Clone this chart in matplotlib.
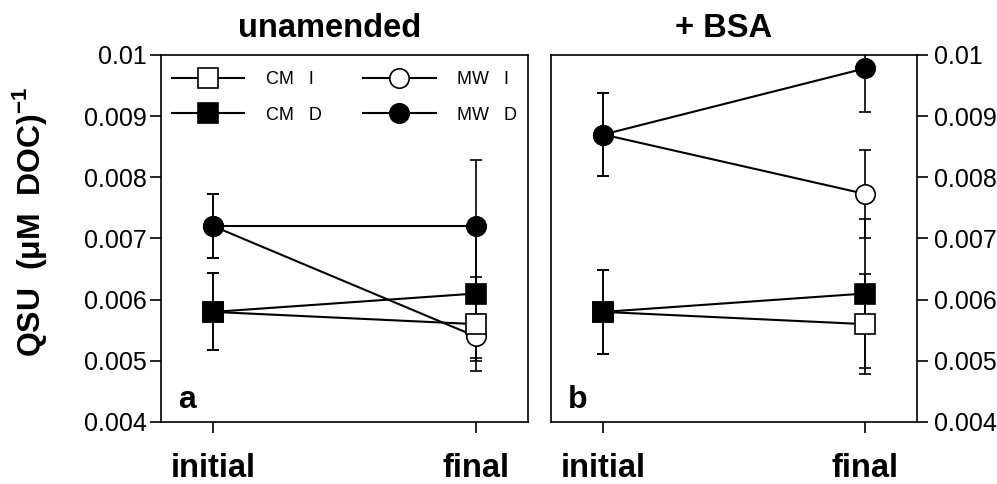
import matplotlib
matplotlib.use("Agg")
import matplotlib.pyplot as plt
import numpy as np

plt.rcParams['font.family'] = ['Liberation Sans', 'DejaVu Sans']
plt.rcParams['mathtext.fontset'] = 'custom'
plt.rcParams['mathtext.rm'] = 'Liberation Sans'
plt.rcParams['mathtext.bf'] = 'Liberation Sans:bold'

# ---- data ----
x_labels = ["initial", "final"]
panel_titles = ["unamended", "+ BSA"]
panel_letters = ["a", "b"]
series_names = ["CM   I", "CM   D", "MW   I", "MW   D"]

# unamended (panel a): [initial, final]
a_cm_i = [0.0058, 0.0056]
a_cm_i_err = [0.00063, 0.00077]
a_cm_d = [0.0058, 0.0061]
a_cm_d_err = [0.00063, 0.00111]
a_mw_i = [0.0072, 0.0054]
a_mw_i_err = [0.00052, 0.00036]
a_mw_d = [0.0072, 0.0072]
a_mw_d_err = [0.00052, 0.00108]

# + BSA (panel b)
b_cm_i = [0.0058, 0.0056]
b_cm_i_err = [0.00069, 0.00082]
b_cm_d = [0.0058, 0.0061]
b_cm_d_err = [0.00069, 0.00122]
b_mw_i = [0.0087, 0.00773]
b_mw_i_err = [0.00068, 0.00072]
b_mw_d = [0.0087, 0.00978]
b_mw_d_err = [0.00068, 0.00071]

y_ticks = [0.004, 0.005, 0.006, 0.007, 0.008, 0.009, 0.010]
y_tick_labels = ["0.004", "0.005", "0.006", "0.007", "0.008", "0.009", "0.01"]

panels = [
    [(a_mw_i, a_mw_i_err), (a_cm_i, a_cm_i_err), (a_cm_d, a_cm_d_err), (a_mw_d, a_mw_d_err)],
    [(b_mw_i, b_mw_i_err), (b_cm_i, b_cm_i_err), (b_cm_d, b_cm_d_err), (b_mw_d, b_mw_d_err)],
]
# order in panels list: MW I, CM I, CM D, MW D
styles = [
    dict(marker='o', mfc='white', label=series_names[2]),
    dict(marker='s', mfc='white', label=series_names[0]),
    dict(marker='s', mfc='black', label=series_names[1]),
    dict(marker='o', mfc='black', label=series_names[3]),
]

fig = plt.figure(figsize=(9.97, 4.84), dpi=100)
axes = [fig.add_axes([0.1615, 0.1281, 0.3681, 0.7583]),
        fig.add_axes([0.5527, 0.1281, 0.3671, 0.7583])]

xs = np.arange(len(x_labels))
title_x = [0.4605, 0.47]
for k, ax in enumerate(axes):
    handles = {}
    for (vals, errs), st in zip(panels[k], styles):
        h = ax.errorbar(xs, vals, yerr=errs, color='black', lw=1.5,
                        elinewidth=1.2, capsize=4.5, capthick=1.2,
                        marker=st['marker'], ms=14, mfc=st['mfc'], mec='black',
                        mew=1.2, label=st['label'])
        handles[st['label']] = h[0]
    ax.set_xlim(-0.2, 1.2)
    ax.set_ylim(0.004, 0.010)
    ax.set_xticks(xs)
    ax.set_xticklabels(x_labels, fontsize=23.5, fontweight='bold')
    ax.set_yticks(y_ticks)
    ax.set_yticklabels(y_tick_labels, fontsize=18)
    ax.tick_params(axis='x', direction='out', length=8, width=1.2, pad=14)
    for sp in ax.spines.values():
        sp.set_linewidth(1.2)
    if k == 0:
        ax.tick_params(axis='y', direction='out', length=8, width=1.2, pad=2,
                       left=True, right=False)
    else:
        ax.yaxis.tick_right()
        ax.tick_params(axis='y', direction='out', length=8, width=1.2, pad=4,
                       left=False, right=True)
    ax.text(title_x[k], 1 + 18 / 367, panel_titles[k], transform=ax.transAxes,
            ha='center', va='baseline', fontsize=23.5, fontweight='bold')
    ax.text(0.046, 0.038, panel_letters[k], transform=ax.transAxes,
            ha='left', va='baseline', fontsize=23, fontweight='bold')
    if k == 0:
        order = [series_names[0], series_names[1], series_names[2], series_names[3]]
        ax.legend([handles[n] for n in order], order, loc='upper left',
                  bbox_to_anchor=(0.03, 0.955), ncol=2, frameon=False,
                  fontsize=13, handlelength=4.0, handletextpad=1.2,
                  columnspacing=2.3, labelspacing=1.0, borderpad=0,
                  borderaxespad=0)

fig.text(0.03, 0.543, r"QSU  (μM  DOC)$^{\mathbf{-1}}$", rotation=90,
         ha='center', va='center', fontsize=23, fontweight='bold')

fig.savefig("out.png", dpi=100)
